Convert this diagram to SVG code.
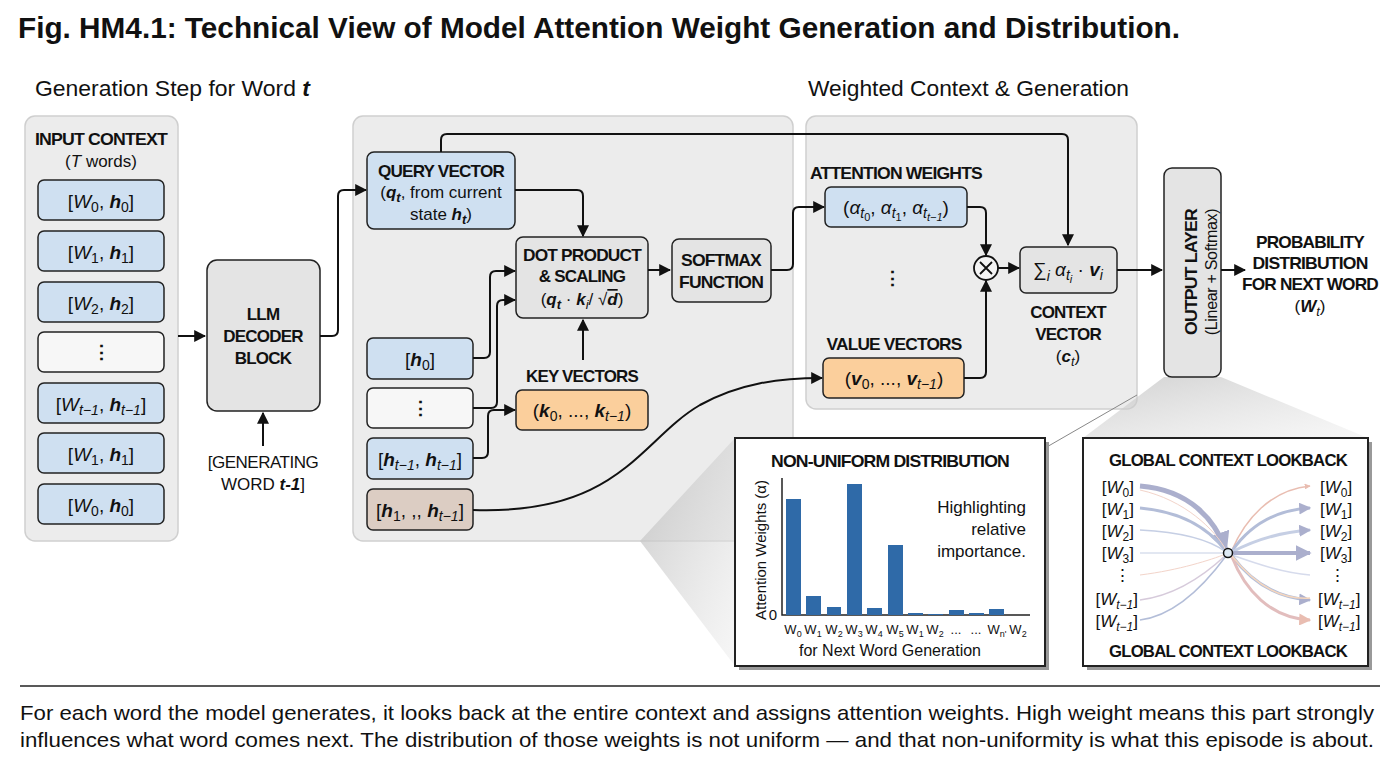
<svg xmlns="http://www.w3.org/2000/svg" width="1400" height="764" viewBox="0 0 1400 764">
<defs>
<style>
text{font-family:"Liberation Sans",Arial,sans-serif;fill:#111}
.b{font-weight:bold;letter-spacing:-0.8px}
.c{text-anchor:middle}
.r{text-anchor:end}
.panel{fill:#ececec;stroke:#cfcfcf;stroke-width:1.5}
.blue{fill:#cfe0f1;stroke:#222;stroke-width:1.5}
.gray{fill:#e4e4e4;stroke:#222;stroke-width:1.5}
.white{fill:#f7f7f7;stroke:#222;stroke-width:1.5}
.orange{fill:#fbcf9c;stroke:#222;stroke-width:1.5}
.tan{fill:#dccdc3;stroke:#222;stroke-width:1.5}
.ln{fill:none;stroke:#111;stroke-width:2}
.bar{fill:#2f6aa8}
.t16{font-size:16px;letter-spacing:-0.3px}
.t18{font-size:17px}
.m{font-size:19px}
</style>
<marker id="ah" viewBox="0 0 10 10" refX="9" refY="5" markerWidth="6" markerHeight="6" orient="auto-start-reverse"><path d="M0,0L10,5L0,10z" fill="#111"/></marker>
<marker id="pa" viewBox="0 0 10 10" refX="9" refY="5" markerWidth="4" markerHeight="4" orient="auto"><path d="M0,0L10,5L0,10z" fill="#8f95bd"/></marker>
<marker id="pr" viewBox="0 0 10 10" refX="9" refY="5" markerWidth="4" markerHeight="4" orient="auto"><path d="M0,0L10,5L0,10z" fill="#e2a898"/></marker>
<linearGradient id="wg" x1="0" y1="0" x2="1" y2="1"><stop offset="0" stop-color="#bdbdbd"/><stop offset="1" stop-color="#ededed" stop-opacity="0.6"/></linearGradient>
</defs>
<rect width="1400" height="764" fill="#fff"/>
<text x="18" y="38" font-weight="bold" font-size="30" textLength="1162" lengthAdjust="spacingAndGlyphs">Fig. HM4.1: Technical View of Model Attention Weight Generation and Distribution.</text>
<text x="35" y="96" font-size="22" textLength="275" lengthAdjust="spacingAndGlyphs">Generation Step for Word <tspan font-weight="bold" font-style="italic">t</tspan></text>
<text x="808" y="96" font-size="22" textLength="321" lengthAdjust="spacingAndGlyphs">Weighted Context &amp; Generation</text>

<rect class="panel" x="25" y="116" width="153" height="425" rx="10"/>
<rect class="panel" x="353" y="116" width="440" height="425" rx="10"/>
<rect class="panel" x="806" y="116" width="331" height="293" rx="10"/>

<g id="callouts">
<polygon points="640,541 735,438 735,666" fill="url(#wg)" opacity="0.8"/>
<polygon points="1164,377 1221,377 1368,438 1083,438" fill="url(#wg)" opacity="0.7"/>
<line x1="1137" y1="395" x2="1045" y2="448" stroke="#888" stroke-width="1"/>
</g>

<g id="input-context">
<text x="101" y="145" class="b c t18" textLength="132" lengthAdjust="spacingAndGlyphs">INPUT CONTEXT</text>
<text x="101" y="167" class="c t18">(<tspan font-style="italic">T</tspan> words)</text>
</g>
<g id="in0"><rect class="blue" x="38" y="180" width="126" height="40" rx="6"/><text x="101" y="208" class="c m">[<tspan font-style="italic">W</tspan><tspan font-size="14" dy="4">0</tspan><tspan dy="-4">, </tspan><tspan font-weight="bold" font-style="italic">h</tspan><tspan font-size="14" dy="4">0</tspan><tspan dy="-4">]</tspan></text></g>
<g id="in1"><rect class="blue" x="38" y="231" width="126" height="40" rx="6"/><text x="101" y="259" class="c m">[<tspan font-style="italic">W</tspan><tspan font-size="14" dy="4">1</tspan><tspan dy="-4">, </tspan><tspan font-weight="bold" font-style="italic">h</tspan><tspan font-size="14" dy="4">1</tspan><tspan dy="-4">]</tspan></text></g>
<g id="in2"><rect class="blue" x="38" y="282" width="126" height="40" rx="6"/><text x="101" y="310" class="c m">[<tspan font-style="italic">W</tspan><tspan font-size="14" dy="4">2</tspan><tspan dy="-4">, </tspan><tspan font-weight="bold" font-style="italic">h</tspan><tspan font-size="14" dy="4">2</tspan><tspan dy="-4">]</tspan></text></g>
<g id="in3"><rect class="white" x="38" y="332" width="126" height="40" rx="6"/><text x="101" y="359" class="c m" font-weight="bold">⋮</text></g>
<g id="in4"><rect class="blue" x="38" y="383" width="126" height="40" rx="6"/><text x="101" y="411" class="c m">[<tspan font-style="italic">W</tspan><tspan font-size="14" font-style="italic" dy="4">t−1</tspan><tspan dy="-4">, </tspan><tspan font-weight="bold" font-style="italic">h</tspan><tspan font-size="14" font-style="italic" dy="4">t−1</tspan><tspan dy="-4">]</tspan></text></g>
<g id="in5"><rect class="blue" x="38" y="433" width="126" height="40" rx="6"/><text x="101" y="461" class="c m">[<tspan font-style="italic">W</tspan><tspan font-size="14" dy="4">1</tspan><tspan dy="-4">, </tspan><tspan font-weight="bold" font-style="italic">h</tspan><tspan font-size="14" dy="4">1</tspan><tspan dy="-4">]</tspan></text></g>
<g id="in6"><rect class="blue" x="38" y="484" width="126" height="40" rx="6"/><text x="101" y="512" class="c m">[<tspan font-style="italic">W</tspan><tspan font-size="14" dy="4">0</tspan><tspan dy="-4">, </tspan><tspan font-weight="bold" font-style="italic">h</tspan><tspan font-size="14" dy="4">0</tspan><tspan dy="-4">]</tspan></text></g>

<g id="llm"><rect class="gray" x="207" y="260" width="113" height="151" rx="10"/>
<text x="263" y="320" class="c b t18">LLM</text><text x="263" y="342" class="c b t18">DECODER</text><text x="263" y="364" class="c b t18">BLOCK</text></g>
<g id="gen-label"><text x="263" y="468" class="c t18" letter-spacing="-0.5">[GENERATING</text><text x="263" y="490" class="c t18">WORD <tspan font-weight="bold" font-style="italic">t-1</tspan>]</text></g>

<g id="query"><rect class="blue" x="367" y="152" width="148" height="77" rx="7"/>
<text x="441" y="177" class="c b t18" textLength="126" lengthAdjust="spacingAndGlyphs">QUERY VECTOR</text>
<text x="441" y="198" class="c t18">(<tspan font-weight="bold" font-style="italic">q</tspan><tspan font-size="13" font-style="italic" font-weight="bold" dy="4">t</tspan><tspan dy="-4">, from current</tspan></text>
<text x="441" y="220" class="c t18">state <tspan font-weight="bold" font-style="italic">h</tspan><tspan font-size="13" font-style="italic" font-weight="bold" dy="4">t</tspan><tspan dy="-4">)</tspan></text></g>
<g id="dot"><rect class="gray" x="516" y="237" width="132" height="81" rx="7"/>
<text x="582" y="261" class="c b t18" textLength="118" lengthAdjust="spacingAndGlyphs">DOT PRODUCT</text><text x="582" y="282" class="c b t18">&amp; SCALING</text>
<text x="582" y="305" class="c t18">(<tspan font-weight="bold" font-style="italic">q</tspan><tspan font-size="13" font-style="italic" font-weight="bold" dy="4">t</tspan><tspan dy="-4"> · </tspan><tspan font-weight="bold" font-style="italic">k</tspan><tspan font-size="13" font-style="italic" dy="4">i</tspan><tspan dy="-4">/ √</tspan><tspan font-weight="bold" font-style="italic" text-decoration="overline">d</tspan>)</text></g>
<g id="softmax"><rect class="gray" x="672" y="239" width="99" height="63" rx="7"/>
<text x="721" y="266" class="c b t18" textLength="80" lengthAdjust="spacingAndGlyphs">SOFTMAX</text><text x="721" y="288" class="c b t18" textLength="84" lengthAdjust="spacingAndGlyphs">FUNCTION</text></g>
<g id="h0"><rect class="blue" x="367" y="338" width="106" height="41" rx="6"/><text x="420" y="366" class="c m">[<tspan font-weight="bold" font-style="italic">h</tspan><tspan font-size="14" dy="4">0</tspan><tspan dy="-4">]</tspan></text></g>
<g id="hd"><rect class="white" x="367" y="388" width="106" height="40" rx="6"/><text x="420" y="415" class="c m" font-weight="bold">⋮</text></g>
<g id="ht"><rect class="blue" x="367" y="438" width="106" height="41" rx="6"/><text x="420" y="466" class="c m">[<tspan font-weight="bold" font-style="italic">h</tspan><tspan font-size="14" font-style="italic" dy="4">t−1</tspan><tspan dy="-4">, </tspan><tspan font-weight="bold" font-style="italic">h</tspan><tspan font-size="14" font-style="italic" dy="4">t−1</tspan><tspan dy="-4">]</tspan></text></g>
<g id="hv"><rect class="tan" x="367" y="489" width="106" height="41" rx="6"/><text x="420" y="517" class="c m">[<tspan font-weight="bold" font-style="italic">h</tspan><tspan font-size="14" dy="4">1</tspan><tspan dy="-4">, ,, </tspan><tspan font-weight="bold" font-style="italic">h</tspan><tspan font-size="14" font-style="italic" dy="4">t−1</tspan><tspan dy="-4">]</tspan></text></g>
<g id="keys"><text x="582" y="382" class="c b t18" textLength="112" lengthAdjust="spacingAndGlyphs">KEY VECTORS</text><rect class="orange" x="516" y="390" width="132" height="40" rx="6"/>
<text x="582" y="417" class="c m">(<tspan font-weight="bold" font-style="italic">k</tspan><tspan font-size="14" dy="4">0</tspan><tspan dy="-4">, ..., </tspan><tspan font-weight="bold" font-style="italic">k</tspan><tspan font-size="14" font-style="italic" dy="4">t−1</tspan><tspan dy="-4">)</tspan></text></g>

<g id="attn"><text x="896" y="179" class="c b t18" textLength="172" lengthAdjust="spacingAndGlyphs">ATTENTION WEIGHTS</text><rect class="blue" x="825" y="187" width="142" height="40" rx="6"/>
<text x="896" y="214" class="c m">(<tspan font-style="italic">α</tspan><tspan font-size="14" font-style="italic" dy="4">t</tspan><tspan font-size="11" dy="3">0</tspan><tspan dy="-7">, </tspan><tspan font-style="italic">α</tspan><tspan font-size="14" font-style="italic" dy="4">t</tspan><tspan font-size="11" dy="3">1</tspan><tspan dy="-7">, </tspan><tspan font-style="italic">α</tspan><tspan font-size="14" font-style="italic" dy="4">t</tspan><tspan font-size="11" font-style="italic" dy="3">t−1</tspan><tspan dy="-7">)</tspan></text>
<text x="892" y="285" class="c m" font-weight="bold">⋮</text></g>
<g id="values"><text x="894" y="350" class="c b t18" textLength="135" lengthAdjust="spacingAndGlyphs">VALUE VECTORS</text><rect class="orange" x="823" y="358" width="141" height="40" rx="6"/>
<text x="894" y="385" class="c m">(<tspan font-weight="bold" font-style="italic">v</tspan><tspan font-size="14" dy="4">0</tspan><tspan dy="-4">, ..., </tspan><tspan font-weight="bold" font-style="italic">v</tspan><tspan font-size="14" font-style="italic" dy="4">t−1</tspan><tspan dy="-4">)</tspan></text></g>
<g id="mul"><circle cx="986" cy="268" r="12" fill="#f4f4f4" stroke="#111" stroke-width="1.8"/><path d="M980,262L992,274M992,262L980,274" stroke="#111" stroke-width="1.8"/></g>
<g id="context"><rect class="gray" x="1020" y="247" width="97" height="46" rx="6"/>
<text x="1068" y="276" class="c m">∑<tspan font-size="14" font-style="italic" dy="5">i</tspan><tspan dy="-5"> </tspan><tspan font-style="italic">α</tspan><tspan font-size="14" font-style="italic" dy="4">t</tspan><tspan font-size="11" font-style="italic" dy="3">i</tspan><tspan dy="-7"> · </tspan><tspan font-weight="bold" font-style="italic">v</tspan><tspan font-size="14" font-style="italic" dy="4">i</tspan></text>
<text x="1068" y="318" class="c b t18">CONTEXT</text><text x="1068" y="340" class="c b t18">VECTOR</text>
<text x="1068" y="362" class="c t18">(<tspan font-weight="bold" font-style="italic">c</tspan><tspan font-size="13" font-style="italic" dy="4">t</tspan><tspan dy="-4">)</tspan></text></g>
<g id="output"><rect class="gray" x="1164" y="168" width="57" height="209" rx="8"/>
<text transform="translate(1197,272) rotate(-90)" class="c b t18" textLength="126" lengthAdjust="spacingAndGlyphs">OUTPUT LAYER</text>
<text transform="translate(1217,272) rotate(-90)" class="c t16">(Linear + Softmax)</text></g>
<g id="prob"><text x="1310" y="248" class="c b t18" textLength="108" lengthAdjust="spacingAndGlyphs">PROBABILITY</text><text x="1310" y="269" class="c b t18" textLength="115" lengthAdjust="spacingAndGlyphs">DISTRIBUTION</text><text x="1310" y="290" class="c b t18" textLength="136" lengthAdjust="spacingAndGlyphs">FOR NEXT WORD</text>
<text x="1310" y="312" class="c t18">(<tspan font-weight="bold" font-style="italic">W</tspan><tspan font-size="13" font-style="italic" dy="4">t</tspan><tspan dy="-4">)</tspan></text></g>

<g id="connectors">
<path class="ln" marker-end="url(#ah)" d="M178,336H205"/>
<path class="ln" marker-end="url(#ah)" d="M263,446V413"/>
<path class="ln" marker-end="url(#ah)" d="M320,336H332Q338,336 338,330V196Q338,190 344,190H366"/>
<path class="ln" marker-end="url(#ah)" d="M441,152V140Q441,134 447,134H1062Q1068,134 1068,140V245"/>
<path class="ln" marker-end="url(#ah)" d="M515,190H577Q583,190 583,196V236"/>
<path class="ln" marker-end="url(#ah)" d="M583,360V320"/>
<path class="ln" marker-end="url(#ah)" d="M473,358H484Q490,358 490,352V277Q490,271 496,271H515"/>
<path class="ln" marker-end="url(#ah)" d="M473,408H491Q497,408 497,402V306Q497,300 503,300H515"/>
<path class="ln" marker-end="url(#ah)" d="M473,458H482Q488,458 488,452V416Q488,410 494,410H515"/>
<path class="ln" marker-end="url(#ah)" d="M648,270H670"/>
<path class="ln" marker-end="url(#ah)" d="M771,270H787Q793,270 793,264V213Q793,207 799,207H824"/>
<path class="ln" marker-end="url(#ah)" d="M967,207H980Q986,207 986,213V255"/>
<path class="ln" marker-end="url(#ah)" d="M964,378H980Q986,378 986,372V281"/>
<path class="ln" marker-end="url(#ah)" d="M998,268H1019"/>
<path class="ln" marker-end="url(#ah)" d="M1117,270H1162"/>
<path class="ln" marker-end="url(#ah)" d="M1221,270H1245"/>
<path class="ln" marker-end="url(#ah)" d="M473,510C620,515 640,440 700,405C740,383 780,378 822,378"/>
</g>

<g id="chart">
<rect x="739" y="442" width="310" height="228" fill="#999"/>
<rect x="735" y="438" width="310" height="228" fill="#fff" stroke="#222" stroke-width="2"/>
<text x="890" y="467" class="c b t18" textLength="238" lengthAdjust="spacingAndGlyphs">NON-UNIFORM DISTRIBUTION</text>
<path d="M782,478V615H1030" fill="none" stroke="#222" stroke-width="1.5"/>
<text x="777" y="620" class="r" font-size="15">0</text>
<text transform="translate(766,550) rotate(-90)" class="c" font-size="15" textLength="140" lengthAdjust="spacingAndGlyphs">Attention Weights (α)</text>
<rect class="bar" x="786" y="499" width="15" height="116"/>
<rect class="bar" x="806" y="596" width="15" height="19"/>
<rect class="bar" x="827" y="607" width="14" height="8"/>
<rect class="bar" x="847" y="484" width="15" height="131"/>
<rect class="bar" x="867" y="608" width="15" height="7"/>
<rect class="bar" x="888" y="545" width="15" height="70"/>
<rect class="bar" x="908" y="613" width="15" height="2"/>
<rect class="bar" x="928" y="614" width="15" height="1"/>
<rect class="bar" x="949" y="610" width="15" height="5"/>
<rect class="bar" x="969" y="613" width="15" height="2"/>
<rect class="bar" x="989" y="609" width="15" height="6"/>
<g font-size="13">
<text x="793" y="634" class="c">W<tspan font-size="9" dy="3">0</tspan></text>
<text x="813" y="634" class="c">W<tspan font-size="9" dy="3">1</tspan></text>
<text x="834" y="634" class="c">W<tspan font-size="9" dy="3">2</tspan></text>
<text x="854" y="634" class="c">W<tspan font-size="9" dy="3">3</tspan></text>
<text x="874" y="634" class="c">W<tspan font-size="9" dy="3">4</tspan></text>
<text x="895" y="634" class="c">W<tspan font-size="9" dy="3">5</tspan></text>
<text x="915" y="634" class="c">W<tspan font-size="9" dy="3">1</tspan></text>
<text x="935" y="634" class="c">W<tspan font-size="9" dy="3">2</tspan></text>
<text x="956" y="634" class="c">...</text>
<text x="976" y="634" class="c">...</text>
<text x="997" y="634" class="c">W<tspan font-size="9" dy="3">n'</tspan></text>
<text x="1018" y="634" class="c">W<tspan font-size="9" dy="3">2</tspan></text>
</g>
<text x="890" y="656" class="c" font-size="16">for Next Word Generation</text>
<text x="1026" y="513" class="r t18">Highlighting</text><text x="1026" y="535" class="r t18">relative</text><text x="1026" y="557" class="r t18">importance.</text>
</g>

<g id="lookback">
<rect x="1087" y="442" width="285" height="228" fill="#999"/>
<rect x="1083" y="438" width="285" height="228" fill="#fff" stroke="#222" stroke-width="2"/>
<text x="1228" y="466" class="c b t18" textLength="238" lengthAdjust="spacingAndGlyphs">GLOBAL CONTEXT LOOKBACK</text>
<text x="1228" y="657" class="c b t18" textLength="238" lengthAdjust="spacingAndGlyphs">GLOBAL CONTEXT LOOKBACK</text>
<g fill="none" opacity="0.75">
<path d="M1140,486C1190,490 1215,520 1226,550" stroke="#8f95bd" stroke-width="5" marker-end="url(#pa)"/>
<path d="M1140,508C1185,512 1210,530 1226,551" stroke="#9aa8cc" stroke-width="3"/>
<path d="M1140,530C1180,532 1210,540 1226,552" stroke="#b3bfdc" stroke-width="1.5"/>
<path d="M1140,553H1224" stroke="#b3bfdc" stroke-width="1"/>
<path d="M1140,575C1180,570 1210,560 1226,554" stroke="#efc6b8" stroke-width="1"/>
<path d="M1140,600C1180,595 1210,570 1226,555" stroke="#c9b9cf" stroke-width="1.5"/>
<path d="M1140,620C1180,615 1212,575 1226,556" stroke="#9aa8cc" stroke-width="1.5"/>
<path d="M1140,490C1185,500 1215,530 1226,550" stroke="#efc6b8" stroke-width="1"/>
<path d="M1232,550C1245,520 1270,490 1310,486" stroke="#e2a898" stroke-width="1.5" marker-end="url(#pr)"/>
<path d="M1232,551C1250,525 1275,510 1310,508" stroke="#9aa8cc" stroke-width="3" marker-end="url(#pa)"/>
<path d="M1232,552C1255,540 1280,532 1310,530" stroke="#b3bfdc" stroke-width="3" marker-end="url(#pa)"/>
<path d="M1232,553H1310" stroke="#8f95bd" stroke-width="4" marker-end="url(#pa)"/>
<path d="M1232,555C1260,565 1285,573 1310,575" stroke="#c9cfe6" stroke-width="1.5"/>
<path d="M1232,556C1250,580 1275,598 1310,600" stroke="#9aa8cc" stroke-width="3" marker-end="url(#pa)"/>
<path d="M1232,557C1245,590 1270,618 1310,620" stroke="#d9a8a8" stroke-width="3" marker-end="url(#pr)"/>
<path d="M1232,556C1255,585 1280,600 1310,598" stroke="#f2c9a8" stroke-width="1.5"/>
</g>
<circle cx="1228" cy="553" r="4.5" fill="#dde8f3" stroke="#111" stroke-width="1.5"/>
<g class="t18">
<text x="1134" y="493" class="r">[<tspan font-style="italic">W</tspan><tspan font-size="12" dy="4">0</tspan><tspan dy="-4">]</tspan></text>
<text x="1134" y="515" class="r">[<tspan font-style="italic">W</tspan><tspan font-size="12" dy="4">1</tspan><tspan dy="-4">]</tspan></text>
<text x="1134" y="537" class="r">[<tspan font-style="italic">W</tspan><tspan font-size="12" dy="4">2</tspan><tspan dy="-4">]</tspan></text>
<text x="1134" y="559" class="r">[<tspan font-style="italic">W</tspan><tspan font-size="12" dy="4">3</tspan><tspan dy="-4">]</tspan></text>
<text x="1122" y="581" class="c">⋮</text>
<text x="1138" y="605" class="r">[<tspan font-style="italic">W</tspan><tspan font-size="12" font-style="italic" dy="4">t−1</tspan><tspan dy="-4">]</tspan></text>
<text x="1138" y="627" class="r">[<tspan font-style="italic">W</tspan><tspan font-size="12" font-style="italic" dy="4">t−1</tspan><tspan dy="-4">]</tspan></text>
<text x="1320" y="493">[<tspan font-style="italic">W</tspan><tspan font-size="12" dy="4">0</tspan><tspan dy="-4">]</tspan></text>
<text x="1320" y="515">[<tspan font-style="italic">W</tspan><tspan font-size="12" dy="4">1</tspan><tspan dy="-4">]</tspan></text>
<text x="1320" y="537">[<tspan font-style="italic">W</tspan><tspan font-size="12" dy="4">2</tspan><tspan dy="-4">]</tspan></text>
<text x="1320" y="559">[<tspan font-style="italic">W</tspan><tspan font-size="12" dy="4">3</tspan><tspan dy="-4">]</tspan></text>
<text x="1337" y="581" class="c">⋮</text>
<text x="1318" y="605">[<tspan font-style="italic">W</tspan><tspan font-size="12" font-style="italic" dy="4">t−1</tspan><tspan dy="-4">]</tspan></text>
<text x="1318" y="627">[<tspan font-style="italic">W</tspan><tspan font-size="12" font-style="italic" dy="4">t−1</tspan><tspan dy="-4">]</tspan></text>
</g>
</g>

<line x1="20" y1="686" x2="1380" y2="686" stroke="#222" stroke-width="1.5"/>
<text x="20" y="720" font-size="21" textLength="1354" lengthAdjust="spacingAndGlyphs">For each word the model generates, it looks back at the entire context and assigns attention weights. High weight means this part strongly</text>
<text x="20" y="747" font-size="21" textLength="1354" lengthAdjust="spacingAndGlyphs">influences what word comes next. The distribution of those weights is not uniform — and that non-uniformity is what this episode is about.</text>
</svg>
